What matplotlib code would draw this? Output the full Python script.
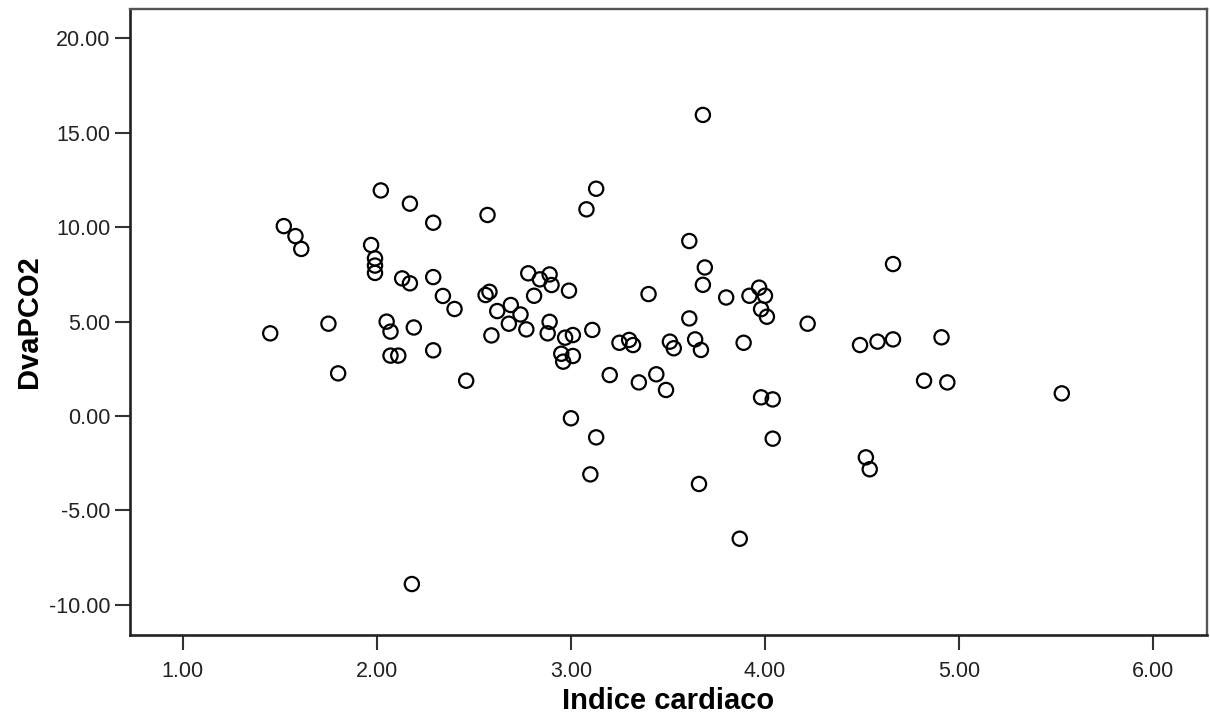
import matplotlib
matplotlib.use('Agg')
import matplotlib.pyplot as plt
import numpy as np

# Indice cardiaco (x) vs DvaPCO2 (y)
indice_cardiaco = [
    1.45, 1.52, 1.58, 1.61, 1.75, 1.80, 1.97, 1.99, 1.99, 1.99,
    2.02, 2.05, 2.07, 2.07, 2.11, 2.13, 2.17, 2.17, 2.18, 2.19,
    2.29, 2.29, 2.29, 2.34, 2.40, 2.46, 2.56, 2.58, 2.57, 2.59,
    2.62, 2.69, 2.68, 2.74, 2.77, 2.78, 2.81, 2.84, 2.88, 2.89,
    2.89, 2.90, 2.95, 2.96, 2.97, 2.99, 3.00, 3.01, 3.01, 3.08,
    3.10, 3.11, 3.13, 3.13, 3.20, 3.25, 3.30, 3.32, 3.35, 3.40,
    3.44, 3.49, 3.51, 3.53, 3.61, 3.61, 3.64, 3.66, 3.68, 3.68,
    3.67, 3.69, 3.80, 3.87, 3.89, 3.92, 3.97, 3.98, 3.98, 4.00,
    4.01, 4.04, 4.04, 4.22, 4.49, 4.52, 4.54, 4.58, 4.66, 4.66,
    4.82, 4.91, 4.94, 5.53,
]
dva_pco2 = [
    4.38, 10.06, 9.53, 8.85, 4.89, 2.26, 9.06, 8.35, 7.97, 7.58,
    11.95, 5.00, 4.47, 3.20, 3.20, 7.29, 11.25, 7.03, -8.90, 4.69,
    10.24, 7.36, 3.48, 6.36, 5.67, 1.87, 6.41, 6.58, 10.65, 4.27,
    5.56, 5.88, 4.89, 5.38, 4.59, 7.56, 6.37, 7.24, 4.38, 7.50,
    4.99, 6.94, 3.30, 2.88, 4.15, 6.64, -0.12, 4.29, 3.18, 10.95,
    -3.09, 4.56, 12.04, -1.13, 2.17, 3.88, 4.03, 3.76, 1.78, 6.46,
    2.21, 1.38, 3.94, 3.59, 9.27, 5.17, 4.06, -3.60, 15.95, 6.95,
    3.50, 7.87, 6.28, -6.50, 3.88, 6.37, 6.80, 5.66, 0.99, 6.37,
    5.26, 0.88, -1.20, 4.89, 3.76, -2.19, -2.82, 3.94, 8.05, 4.06,
    1.87, 4.17, 1.78, 1.20,
]

x_ticks = [1, 2, 3, 4, 5, 6]
y_ticks = [-10, -5, 0, 5, 10, 15, 20]

plt.rcParams['font.family'] = ['Liberation Sans', 'DejaVu Sans']

fig = plt.figure(figsize=(12.1, 7.22), dpi=100)
ax = fig.add_axes([0.1074, 0.1205, 0.8899, 0.867])

ax.scatter(indice_cardiaco, dva_pco2, s=105, facecolors='none',
           edgecolors='black', linewidths=1.6, zorder=3)

ax.set_xlim(0.727, 6.277)
ax.set_ylim(-11.6, 21.56)
ax.set_xticks(x_ticks)
ax.set_yticks(y_ticks)
ax.set_xticklabels(['%.2f' % v for v in x_ticks])
ax.set_yticklabels(['%.2f' % v for v in y_ticks])

ax.tick_params(axis='both', direction='out', length=10.5, width=1.5,
               color='#333333', labelsize=15.5, labelcolor='#222222')
ax.tick_params(axis='x', pad=8)
ax.tick_params(axis='y', pad=3.5)

for side in ['left', 'bottom']:
    ax.spines[side].set_linewidth(1.9)
    ax.spines[side].set_color('#222222')
for side in ['top', 'right']:
    ax.spines[side].set_linewidth(1.7)
    ax.spines[side].set_color('#555555')

ax.set_xlabel('Indice cardiaco', fontsize=21, fontweight='bold', labelpad=4)
ax.set_ylabel('DvaPCO2', fontsize=21, fontweight='bold', labelpad=4)

fig.savefig('out.png', dpi=100)
